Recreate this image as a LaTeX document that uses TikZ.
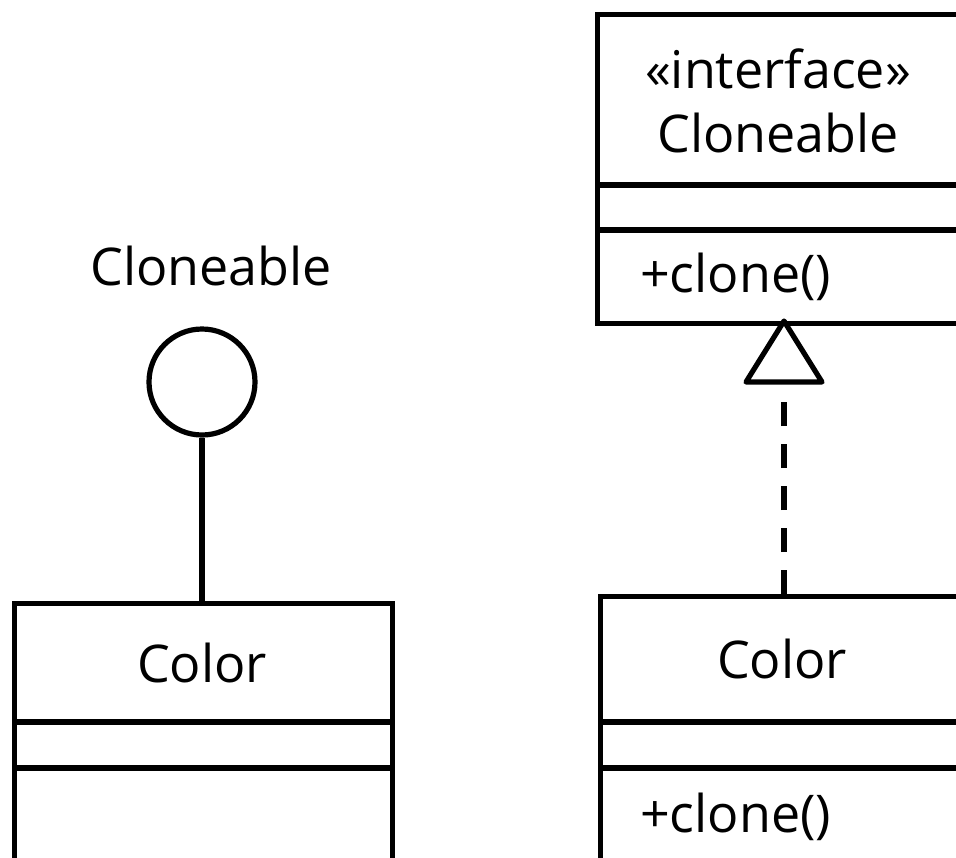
\documentclass[tikz,border=0pt]{standalone}
\usepackage{fontspec}
\setmainfont{Open Sans}
\begin{document}
\begin{tikzpicture}[x=1pt,y=-1pt,
  umlline/.style={line width=5.2pt},
  lbl/.style={font=\fontsize{52}{62}\selectfont, inner sep=0pt, anchor=base},
  boxshape/.style={draw, umlline, rectangle, inner sep=0pt, anchor=north west}]
\useasboundingbox (0,0) rectangle (956,857);
\clip (0,0) rectangle (956,857);
% left side
\node[lbl] (ltitle) at (211,285) {Cloneable};
\node[draw, umlline, circle, minimum size=106pt, inner sep=0pt] (lolli) at (202,382) {};
\node[boxshape, minimum width=378pt, minimum height=300pt] (colorL) at (12,601) {};
\draw[umlline] (12,722) -- (390,722);
\draw[umlline] (12,768) -- (390,768);
\node[lbl] (colorLname) at (202,682) {Color};
\draw[umlline] (lolli.south) -- (colorL.north -| lolli.south);
% right top
\node[boxshape, minimum width=400pt, minimum height=309pt] (iface) at (595,12) {};
\draw[umlline] (595,185) -- (1000,185);
\draw[umlline] (595,230) -- (1000,230);
\node[lbl] (stereo) at (778,88) {«interface»};
\node[lbl] (ifname) at (778,152) {Cloneable};
\node[lbl, anchor=base west] (ifop) at (640,292) {+clone()};
% right bottom
\node[boxshape, minimum width=400pt, minimum height=300pt] (colorR) at (598,594) {};
\draw[umlline] (598,722) -- (1000,722);
\draw[umlline] (598,768) -- (1000,768);
\node[lbl] (colorRname) at (782,678) {Color};
\node[lbl, anchor=base west] (crop) at (640,832) {+clone()};
% realization
\coordinate (apex) at (784,321);
\coordinate (tribase) at (784,382);
\draw[umlline, line join=round] (apex) -- (746,382) -- (822,382) -- cycle;
\draw[umlline, dash pattern=on 24pt off 18pt] (colorR.north -| apex) -- (tribase);
\end{tikzpicture}
\end{document}
